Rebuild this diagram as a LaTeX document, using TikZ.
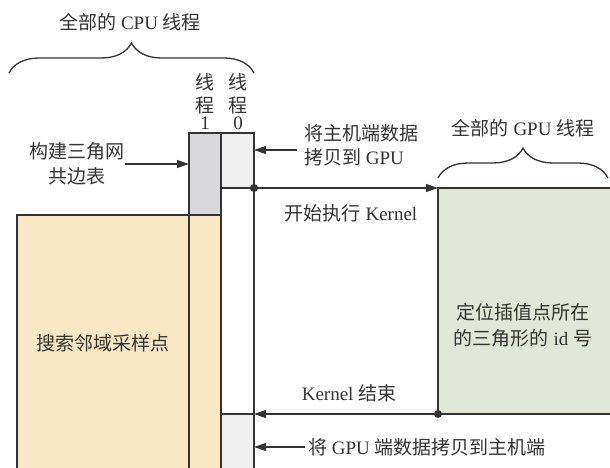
\documentclass[tikz,border=0pt]{standalone}
\usepackage{fontspec}
\setmainfont{Liberation Serif}
\newfontfamily\cjk{Noto Sans CJK SC}
\newcommand{\zh}[1]{{\cjk #1}}
\usetikzlibrary{decorations.pathreplacing,arrows.meta}
\definecolor{lnc}{HTML}{333333}
\definecolor{orangec}{HTML}{FAE7C4}
\definecolor{grayone}{HTML}{D9D9DB}
\definecolor{grayzero}{HTML}{EFEFEF}
\definecolor{greenc}{HTML}{E0E7D6}
\begin{document}
\begin{tikzpicture}[x=1pt,y=-1pt,
  font=\fontsize{19}{23}\selectfont,
  lbl/.style={inner sep=0pt, text=lnc},
  lnk/.style={draw=lnc, line width=1.3pt},
  arr/.style={lnk, -{Triangle[length=12pt,width=8pt]}},
  dotn/.style={circle, fill=lnc, inner sep=0pt, minimum size=8pt},
  brc/.style={lnk, decorate, decoration={brace, amplitude=30pt}}]
\useasboundingbox (0,0) rectangle (610,468);
% fills
\fill[orangec] (17,215) rectangle (221,470);
\fill[grayone] (189,133) rectangle (221,215);
\fill[grayzero] (221,133) rectangle (254,188);
\fill[grayzero] (221,414) rectangle (254,470);
\fill[greenc] (438,188) rectangle (612,414);
% outlines
\draw[lnk] (17,470) |- (221,215);
\draw[lnk] (189,470) |- (254,133) -- (254,470);
\draw[lnk] (221,133) -- (221,470);
\draw[lnk] (221,188) -- (254,188);
\draw[lnk] (221,414) -- (254,414);
\draw[lnk] (612,188) -- (438,188) -- (438,414) -- (612,414);
% coordinates
\coordinate (copyin) at (297,150);
\coordinate (copyinend) at (254,150);
\coordinate (buildst) at (125,164);
\coordinate (buildend) at (189,164);
\coordinate (kstart) at (254,188);
\coordinate (gputop) at (438,188);
\coordinate (gpubot) at (438,414);
\coordinate (kend) at (254,414);
\coordinate (copyout) at (305,447);
\coordinate (copyoutend) at (254,447);
% arrows
\draw[arr] (copyin) -- (copyinend);
\draw[arr] (buildst) -- (buildend);
\draw[arr] (kstart) -- (gputop);
\draw[arr] (gpubot) -- (kend);
\draw[arr] (copyout) -- (copyoutend);
\node[dotn] (dota) at (kstart) {};
\node[dotn] (dotb) at (gpubot) {};
% braces
\draw[brc] (9,73) -- (254,73);
\draw[brc] (438,178) -- (608,178);
% labels
\node[lbl] (cpuall) at (130,22) {\zh{全部的} CPU \zh{线程}};
\node[lbl] (gpuall) at (523,128) {\zh{全部的} GPU \zh{线程}};
\node[lbl] (t1a) at (205,82) {\zh{线}};
\node[lbl] (t1b) at (205,105) {\zh{程}};
\node[lbl] (t1c) at (205,123) {1};
\node[lbl] (t0a) at (238,82) {\zh{线}};
\node[lbl] (t0b) at (238,105) {\zh{程}};
\node[lbl] (t0c) at (238,123) {0};
\node[lbl] (builda) at (77,151) {\zh{构建三角网}};
\node[lbl] (buildb) at (77,176) {\zh{共边表}};
\node[lbl, anchor=west] (cpa) at (304,133) {\zh{将主机端数据}};
\node[lbl, anchor=west] (cpb) at (304,157) {\zh{拷贝到} GPU};
\node[lbl] (ks) at (351,213) {\zh{开始执行} Kernel};
\node[lbl] (ke) at (349,393) {Kernel \zh{结束}};
\node[lbl] (search) at (103,343) {\zh{搜索邻域采样点}};
\node[lbl] (loca) at (523,312) {\zh{定位插值点所在}};
\node[lbl] (locb) at (523,338) {\zh{的三角形的} id \zh{号}};
\node[lbl, anchor=west] (cpo) at (308,447) {\zh{将} GPU \zh{端数据拷贝到主机端}};
\end{tikzpicture}
\end{document}
